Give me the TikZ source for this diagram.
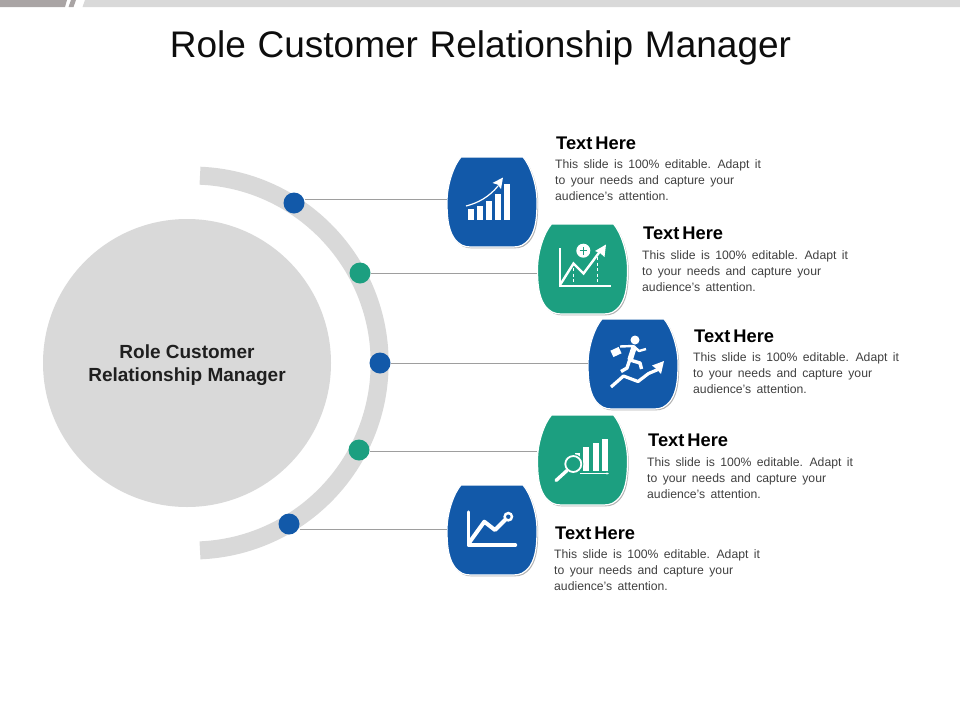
\documentclass[tikz,border=0pt]{standalone}
\usepackage{fontspec}
\setmainfont{Liberation Sans}
\usetikzlibrary{calc,arrows.meta}
\definecolor{slideblue}{HTML}{1259A9}
\definecolor{slidegreen}{HTML}{1C9F80}
\definecolor{slidegrey}{HTML}{D9D9D9}
\definecolor{slidedark}{HTML}{A9A4A4}
\newcommand{\titlefont}{\fontsize{37}{40}\selectfont\spaceskip 11.7pt\relax}
\newcommand{\headfont}{\bfseries\fontsize{18.3}{20}\selectfont\spaceskip 3pt\relax}
\newcommand{\bodyfont}{\fontsize{12.2}{16}\selectfont\spaceskip 5.4pt\relax}
\tikzset{
	dot/.style={circle, inner sep=0pt, minimum size=21pt},
	link/.style={line width=0.8pt, color=black!38},
	head/.style={anchor=base west, inner sep=0pt, font=\headfont},
	body/.style={anchor=north west, inner sep=0pt, align=left, text=black!75, font=\bodyfont},
	icon/.style={line width=2.4pt, color=white},
}
\def\badgepath{(-31,-45) -- (31,-45) .. controls (38,-37) and (45,-18) .. (45,0) .. controls (45,14) and (44,27) .. (38,36) .. controls (33,43) and (28,45) .. (21,45) -- (-21,45) .. controls (-28,45) and (-33,43) .. (-38,36) .. controls (-44,27) and (-45,14) .. (-45,0) .. controls (-45,-18) and (-38,-37) .. (-31,-45) -- cycle}
\newcommand{\badge}[4]{
	\node[inner sep=0pt, minimum size=90pt] (#1) at (#2, #3) {};
	\begin{scope}[shift={(#1.center)}]
		\fill[black!30, shift={(1.2,1.4)}] \badgepath;
		\draw[line width=1.2pt, color=white, fill=#4] \badgepath;
	\end{scope}
}
\newcommand{\infotext}{This slide is 100\% editable. Adapt it\\to your needs and capture your\\audience's attention.}

\begin{document}
\begin{tikzpicture}[x=1pt, y=-1pt]
		%%%%% START %%%%%
		\useasboundingbox (0, 0) rectangle (960, 720);
		
		\fill[slidedark] (0, 0) -- (67, 0) -- (65, 7) -- (0, 7) -- cycle;
		\fill[slidedark] (71, 0) -- (76, 0) -- (73.5, 7) -- (68.5, 7) -- cycle;
		\fill[slidegrey] (85, 0) -- (960, 0) -- (960, 7) -- (82.5, 7) -- cycle;
		
		\node[font=\titlefont, text=black!95] (title) at (480.5, 48) {Role Customer Relationship Manager};
		
		\fill[slidegrey] (187, 363) circle (144);
		\node[align=center, inner sep=0pt, font=\bfseries\fontsize{19}{23}\selectfont, text=black!88] (hub) at (187, 365) {Role Customer\\Relationship Manager};
		
		\draw[line width=18pt, color=slidegrey] (200, 175.7) arc (-87.6:87.6:187.5);
		
		\badge{tile1}{492}{202}{slideblue}
		\badge{tile2}{582.5}{269}{slidegreen}
		\badge{tile3}{633}{364}{slideblue}
		\badge{tile5}{492}{530}{slideblue}
		\badge{tile4}{582.5}{460}{slidegreen}
		
		\node[dot, fill=slideblue] (pin1) at (294, 203) {};
		\node[dot, fill=slidegreen] (pin2) at (360, 273) {};
		\node[dot, fill=slideblue] (pin3) at (380, 363) {};
		\node[dot, fill=slidegreen] (pin4) at (359, 450) {};
		\node[dot, fill=slideblue] (pin5) at (289, 524) {};
		
		\draw[link] ($(pin1.east)+(0,-4)$) -- ($(tile1.west)+(0,-3)$);
		\draw[link] (pin2.east) -- (pin2.east -| tile2.west);
		\draw[link] (pin3.east) -- (pin3.east -| tile3.west);
		\draw[link] ($(pin4.east)+(0,1)$) -- ($(pin4.east -| tile4.west)+(0,1)$);
		\draw[link] ($(pin5.east)+(0,5)$) -- ($(pin5.east -| tile5.west)+(0,5)$);
		
		% bars and rising arrow
		\fill[white] (468.3, 209) rectangle (474.3, 220);
		\fill[white] (477.3, 206) rectangle (483.3, 220);
		\fill[white] (486.3, 201) rectangle (492.3, 220);
		\fill[white] (495.3, 193.5) rectangle (501.3, 220);
		\fill[white] (504.3, 184) rectangle (510, 220);
		\draw[white, line width=1.2pt] (466, 206) .. controls (478, 203) and (489, 197) .. (498, 186);
		\fill[white] (503, 177.5) -- (501, 189) -- (497.5, 184.5) -- (492.5, 183) -- cycle;
		
		% chart with plus
		\draw[icon, line width=2pt] (560, 248) -- (560, 286) -- (611, 286);
		\draw[icon] (560, 285) -- (573.5, 263.5) -- (583.5, 273.5) -- (601, 250);
		\fill[white] (606, 244.5) -- (604.5, 257) -- (600, 253) -- (595, 251) -- cycle;
		\draw[white, line width=1.2pt, dash pattern=on 3pt off 2.5pt] (573.5, 268) -- (573.5, 285);
		\draw[white, line width=1.2pt, dash pattern=on 3pt off 2.5pt] (597.8, 257) -- (597.8, 285);
		\fill[white] (583.3, 250.7) circle (7);
		\draw[slidegreen, line width=1.1pt] (579.5, 250.7) -- (587.1, 250.7);
		\draw[slidegreen, line width=1.1pt] (583.3, 246.9) -- (583.3, 254.5);
		
		% runner on a rising line
		\fill[white] (635, 340) circle (4.5);
		\draw[white, line width=5.5pt] (634, 347.5) -- (630, 360);
		\draw[white, line width=2.4pt, line join=round] (620, 346.5) -- (633.5, 346) -- (639, 351) -- (646, 349);
		\draw[white, line width=3.4pt, line join=round] (630, 360) -- (640, 363) -- (641.5, 369);
		\draw[white, line width=3.4pt, line join=round] (630, 359) -- (627, 368) -- (621, 371.5);
		\fill[white, rotate around={25:(616, 352)}] (611.5, 348.5) rectangle (620.5, 355.5);
		\draw[icon, line width=3.2pt, line join=round] (611, 387) -- (623.5, 376) -- (638, 381.5) -- (648.5, 373.5) -- (658, 369.5);
		\fill[white] (664, 361) -- (661, 374) -- (657, 369.5) -- (652, 365.5) -- cycle;
		
		% bars with lens
		\fill[white] (574.5, 453) rectangle (580, 458);
		\fill[white] (583.3, 446.7) rectangle (589.3, 471);
		\fill[white] (592.7, 443.3) rectangle (598.7, 471);
		\fill[white] (602, 439) rectangle (608, 471);
		\draw[white, line width=1pt, -{Latex[length=2.5pt, width=2.5pt]}] (580, 473.5) -- (609, 473.5);
		\draw[white, line width=1.4pt] (565, 458.5) -- (575, 458.5);
		\draw[slidegreen, fill=slidegreen, line width=1pt] (573.3, 464) circle (9.5);
		\draw[white, line width=1.8pt] (573.3, 464) circle (8);
		\draw[white, line width=3.4pt, line cap=round] (567, 470.5) -- (556, 480.5);
		
		% line chart with ring
		\draw[icon, line width=3.4pt, line join=round, line cap=round] (468.3, 512) -- (468.3, 545) -- (515.5, 545);
		\draw[icon, line width=4pt, line join=round, line cap=round] (470, 541.5) -- (484.3, 521.7) -- (495, 530) -- (508.3, 516.7);
		\fill[white] (508.3, 516.7) circle (5);
		\fill[slideblue] (508.3, 516.7) circle (2.2);
		
		\node[head] (head1) at (556, 149) {Text Here};
		\node[body] (info1) at (555, 159) {\infotext};
		\node[head] (head2) at (643, 239) {Text Here};
		\node[body] (info2) at (642, 250) {\infotext};
		\node[head] (head3) at (694, 342) {Text Here};
		\node[body] (info3) at (693, 352) {\infotext};
		\node[head] (head4) at (648, 446) {Text Here};
		\node[body] (info4) at (647, 457) {\infotext};
		\node[head] (head5) at (555, 539) {Text Here};
		\node[body] (info5) at (554, 549) {\infotext};
		%%%%% END %%%%%
	\end{tikzpicture}
\end{document}
